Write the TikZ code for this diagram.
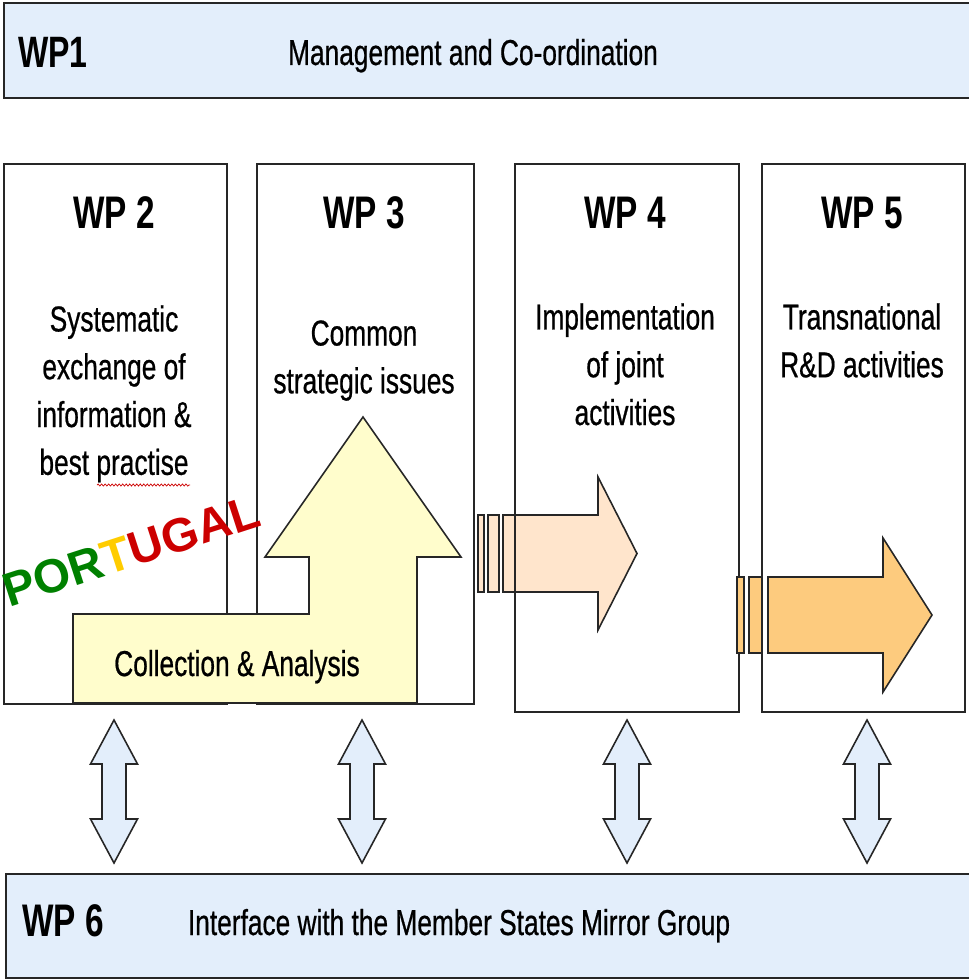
\documentclass[tikz,border=0pt]{standalone}
\usepackage{fontspec}
\setmainfont{Liberation Sans}[FakeStretch=0.73,UprightFeatures={FakeBold=0.6}]
\newfontfamily\flagfont{Liberation Sans}
\usetikzlibrary{positioning,decorations.pathmorphing}
\definecolor{paleblue}{RGB}{227,238,251}
\definecolor{paleyellow}{RGB}{255,253,204}
\definecolor{peach}{RGB}{255,229,204}
\definecolor{apricot}{RGB}{253,203,126}
\definecolor{flaggreen}{RGB}{0,128,0}
\definecolor{flagyellow}{RGB}{255,204,0}
\definecolor{flagred}{RGB}{204,0,0}
\newcommand\pxu{0.02cm}
\tikzset{
  wpbox/.style={draw=black!85,line width=.9pt,anchor=north west,inner sep=0pt},
  band/.style={wpbox,fill=paleblue,line width=1.2pt},
  wptitle/.style={font=\fontsize{26}{30}\selectfont\bfseries,inner sep=0pt},
  wptext/.style={font=\fontsize{20.5}{27.2}\selectfont,align=center,inner sep=0pt,anchor=north},
  bigarrow/.style={draw=black!85,line width=.9pt,line join=miter},
}
\begin{document}
\begin{tikzpicture}[x=\pxu,y=-\pxu]
\useasboundingbox (0,0) rectangle (968,979);
% bands top and bottom
\node[band,minimum width=966*\pxu,minimum height=95*\pxu] (wp1) at (3,2) {};
\node[band,minimum width=964*\pxu,minimum height=104*\pxu] (wp6) at (5,873) {};
% work package columns
\node[wpbox,minimum width=223*\pxu,minimum height=540*\pxu] (wp2) at (3,163) {};
\node[wpbox,minimum width=217*\pxu,minimum height=540*\pxu] (wp3) at (256,163) {};
% collection and analysis
\draw[bigarrow,fill=paleyellow] (73,703) -- (73,614) -- (309,614) -- (309,557) -- (265,557)
  -- (363,417) -- (461,557) -- (417,557) -- (417,703) -- cycle;
% exchange arrows
\foreach \x in {114,362,627,867}
  \draw[bigarrow,fill=paleblue] (\x,720) -- (\x+23.5,764) -- (\x+12,764) -- (\x+12,819)
    -- (\x+23.5,819) -- (\x,863) -- (\x-23.5,819) -- (\x-12,819) -- (\x-12,764)
    -- (\x-23.5,764) -- cycle;
% towards WP4
\foreach \a/\b in {478/484,488/499}
  \draw[bigarrow,fill=peach] (\a,515) rectangle (\b,592);
\draw[bigarrow,fill=peach] (503,515) -- (598,515) -- (598,477) -- (637,553.5) -- (598,630)
  -- (598,592) -- (503,592) -- cycle;
\node[wpbox,minimum width=224*\pxu,minimum height=548*\pxu] (wp4) at (514,163) {};
% towards WP5
\foreach \a/\b in {737/744,749/762}
  \draw[bigarrow,fill=apricot] (\a,577) rectangle (\b,653);
\draw[bigarrow,fill=apricot] (768,577) -- (883,577) -- (883,538) -- (932,615) -- (883,692)
  -- (883,653) -- (768,653) -- cycle;
\node[wpbox,minimum width=203*\pxu,minimum height=548*\pxu] (wp5) at (761,163) {};
% texts
\node[wptitle,font=\fontsize{25}{30}\selectfont\bfseries] (wp1ttl) at (53,52) {WP1};
\node[wptext,anchor=base] (wp1txt) at (473,65) {Management and Co-ordination};
\node[wptitle] (wp6ttl) at (63,921) {WP 6};
\node[wptext,anchor=base] (wp6txt) at (459,935) {Interface with the Member States Mirror Group};
\foreach \n/\x in {2/114,3/364,4/625,5/862}
  \node[wptitle] (wp\n ttl) at (\x,213) {WP \n};
\node[wptext] (wp2txt) at (114,305) {Systematic\\exchange of\\information \&\\best practise};
\node[wptext] (wp3txt) at (364,320) {Common\\strategic issues};
\node[wptext] (wp4txt) at (625,303) {Implementation\\of joint\\activities};
\node[wptext] (wp5txt) at (862,303) {Transnational\\R\&D activities};
\node[wptext,anchor=base] (colltxt) at (237,676) {Collection \& Analysis};
\draw[flagred,line width=.4pt,decorate,decoration={snake,amplitude=.6pt,segment length=2pt}]
  (97,485) -- (190,485);
\node[rotate=18,inner sep=0pt,font=\flagfont\bfseries\fontsize{27}{30}\selectfont] (flag) at (131,551)
  {\textcolor{flaggreen}{POR}\textcolor{flagyellow}{T}\textcolor{flagred}{UGAL}};
\end{tikzpicture}
\end{document}
